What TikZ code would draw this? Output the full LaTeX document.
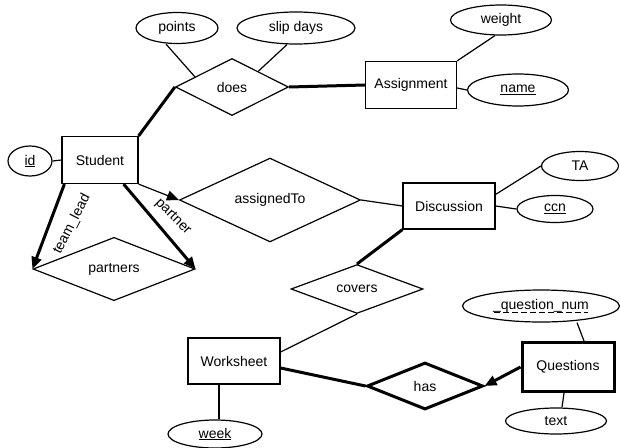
\documentclass[tikz,border=0pt]{standalone}
\usepackage{fontspec}
\setmainfont{Liberation Sans}
\usetikzlibrary{shapes.geometric,arrows.meta,calc}

\begin{document}
\begin{tikzpicture}[x=1pt,y=-1pt,>={Triangle[length=12pt,width=10pt]},
  font=\fontsize{14}{16}\selectfont,
  entity/.style={draw,line width=1.2pt,minimum width=92pt,minimum height=46pt,inner sep=0pt},
  attr/.style={draw,ellipse,line width=1.2pt,minimum height=30pt,inner sep=0pt},
  rel/.style={draw,diamond,line width=1.2pt,inner sep=0pt},
  role/.style={inner sep=0pt},
  link/.style={line width=1.2pt},
  heavy/.style={line width=3pt}]
\useasboundingbox (0,0) rectangle (620,447);
\node[entity,minimum width=76pt,minimum height=47pt] (stud) at (100,160) {Student};
\node[attr,minimum width=44pt] (id) at (30,161) {\underline{id}};
\node[rel,minimum width=113pt,minimum height=57pt] (does) at (232,87) {does};
\node[attr,minimum width=82pt,minimum height=31pt] (pts) at (177,28) {points};
\node[attr,minimum width=118pt,minimum height=32pt] (slip) at (296,28) {slip days};
\node[entity,minimum width=91pt,minimum height=47pt] (asg) at (411,85) {Assignment};
\node[attr,minimum width=101pt] (wt) at (501,20) {weight};
\node[attr,minimum width=101pt,minimum height=32pt] (nm) at (518,90) {\underline{name}};
\node[rel,minimum width=181pt,minimum height=47pt] (asgto) at (270,200) {assignedTo};
\node[entity] (disc) at (449,206) {Discussion};
\node[attr,minimum width=77pt,minimum height=29pt] (ta) at (580,166) {TA};
\node[attr,minimum width=76pt,minimum height=27pt] (ccn) at (555,209) {\underline{ccn}};
\node[rel,minimum width=162pt,minimum height=48pt] (prt) at (114,269) {partners};
\node[rel,minimum width=132pt,minimum height=46pt] (cov) at (357,289) {covers};
\node[entity] (ws) at (234,361) {Worksheet};
\node[attr,minimum width=94pt,minimum height=28pt] (wk) at (215,434) {\underline{week}};
\node[rel,line width=3pt,minimum width=116pt,minimum height=47pt] (has) at (425,386) {has};
\node[entity,line width=3pt,minimum height=49pt] (qs) at (568,367) {Questions};
\node[attr,minimum width=157pt,minimum height=32pt] (qnum) at (541,306) {\_question\_num};
\node[attr,minimum width=101pt,minimum height=26pt] (txt) at (556,421) {text};
% role names
\node[role,rotate=63] (lead) at (72,224) {team\_lead};
\node[role,rotate=-45] (mate) at (173,217) {partner};
% partial key
\draw[line width=1pt,dash pattern=on 6pt off 3pt] ([xshift=-47pt,yshift=-3pt]qnum.base) -- ([xshift=47pt,yshift=-3pt]qnum.base);

% attributes
\draw[link] (id.east) -- (stud.west);
\draw[link] ([xshift=-11pt]pts.south) -- ($(does.west)!0.35!(does.north)$);
\draw[link] ([xshift=-9pt]slip.south) -- ($(does.north)!0.46!(does.east)$);
\draw[link] ([xshift=-6pt]wt.south) -- (asg.north east);
\draw[link] ([yshift=-3pt]asg.east) -- (nm.west);
\draw[link] ([yshift=-12pt]disc.north east) -- (ta.west);
\draw[link] (disc.east) -- (ccn.west);
\draw[link] ([xshift=-15pt]ws.south) -- ([xshift=4pt]wk.north);
\draw[link] ([xshift=36pt]qnum.south) -- ([xshift=16pt]qs.north);
\draw[link] ([xshift=-4pt]qs.south) -- ([xshift=6pt]txt.north);

% relationships
\draw[heavy] (stud.north east) -- (does.west);
\draw[heavy] (does.east) -- (asg.west);
\draw[link,->] (stud.south east) -- (asgto.west);
\draw[link] (asgto.east) -- (disc.west);
\draw[heavy,->] ([xshift=3pt]stud.south west) -- (prt.west);
\draw[heavy,->] ([xshift=-15pt]stud.south east) -- (prt.east);
\draw[heavy] (disc.south west) -- (cov.north);
\draw[link] (cov.south) -- ([yshift=9pt]ws.east);
\draw[heavy] ([yshift=-7pt]ws.east) -- (has.west);
\draw[heavy,->] (qs.west) -- (has.east);
\end{tikzpicture}
\end{document}
